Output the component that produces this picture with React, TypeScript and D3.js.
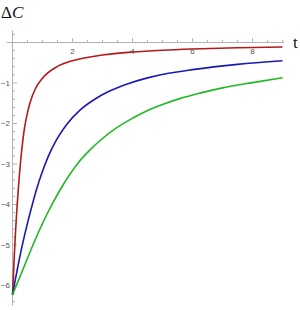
import React, { useEffect, useRef } from "react";
import * as d3 from "d3";

// values (t, ΔC)
const redT = [0, 0.05, 0.1, 0.15, 0.2, 0.3, 0.4, 0.5, 0.6, 0.75, 1.0, 1.5, 2.0, 3.0, 4.0, 5.0, 6.0, 7.5, 9.0];
const redV = [-6.23, -5.42, -4.68, -4.07, -3.56, -2.71, -2.11, -1.73, -1.45, -1.16, -0.88, -0.59, -0.45, -0.31, -0.235, -0.19, -0.16, -0.13, -0.11];

const blueT = [0, 0.1, 0.2, 0.35, 0.5, 0.65, 0.8, 0.97, 1.2, 1.47, 1.8, 2.25, 2.7, 3.2, 3.8, 4.47, 5.2, 6.0, 7.5, 9.0];
const blueV = [-6.23, -5.83, -5.45, -4.93, -4.46, -4.03, -3.63, -3.24, -2.8, -2.4, -2.03, -1.67, -1.42, -1.21, -1.03, -0.88, -0.76, -0.67, -0.54, -0.45];

const greenT = [0, 0.15, 0.4, 0.7, 1.0, 1.33, 1.7, 2.18, 2.6, 2.92, 3.5, 4.0, 4.47, 5.0, 5.6, 6.25, 7.0, 8.0, 9.0];
const greenV = [-6.23, -5.96, -5.51, -4.97, -4.47, -3.98, -3.5, -2.98, -2.64, -2.42, -2.09, -1.87, -1.69, -1.53, -1.38, -1.25, -1.12, -0.99, -0.87];

const xTicks = [2, 4, 6, 8];
const yTicks = [-1, -2, -3, -4, -5, -6];

const series = [
  { t: redT, v: redV, color: "#b31a1a" },
  { t: blueT, v: blueV, color: "#1a1ab3" },
  { t: greenT, v: greenV, color: "#22b922" },
];

const App: React.FC = () => {
  const svgRef = useRef<SVGSVGElement>(null);

  useEffect(() => {
    if (!svgRef.current) return;
    const svg = d3.select(svgRef.current);
    svg.selectAll("*").remove();

    const width = 300;
    const height = 310;
    svg.attr("width", width).attr("height", height);

    const x = d3.scaleLinear().domain([0, 9]).range([12.5, 282.5]);
    const y = d3.scaleLinear().domain([0, -6.5]).range([42.5, 305.75]);

    const axisColor = "#b3b3b3";
    const labelColor = "#555";
    const tickFont = "'Liberation Sans', Arial, sans-serif";

    // x axis
    svg
      .append("line")
      .attr("x1", x(-0.2))
      .attr("x2", x(9.05))
      .attr("y1", y(0))
      .attr("y2", y(0))
      .attr("stroke", axisColor)
      .attr("stroke-width", 1);

    d3.range(0.5, 9.01, 0.5).forEach((t) => {
      const major = Math.abs(t % 2) < 1e-6;
      svg
        .append("line")
        .attr("x1", x(t))
        .attr("x2", x(t))
        .attr("y1", y(0))
        .attr("y2", y(0) - (major ? 4.5 : 2.5))
        .attr("stroke", axisColor)
        .attr("stroke-width", 1);
    });

    xTicks.forEach((t) => {
      svg
        .append("text")
        .attr("x", x(t))
        .attr("y", y(0) + 11)
        .attr("text-anchor", "middle")
        .style("font-family", tickFont)
        .style("font-size", "8px")
        .style("fill", labelColor)
        .text(t);
    });

    // y axis
    svg
      .append("line")
      .attr("x1", x(0))
      .attr("x2", x(0))
      .attr("y1", y(0.3))
      .attr("y2", y(-6.5))
      .attr("stroke", axisColor)
      .attr("stroke-width", 1);

    d3.range(0.2, -6.45, -0.2).forEach((v) => {
      const major = Math.abs(v - Math.round(v)) < 1e-6;
      svg
        .append("line")
        .attr("x1", x(0))
        .attr("x2", x(0) + (major ? 4.5 : 2.5))
        .attr("y1", y(v))
        .attr("y2", y(v))
        .attr("stroke", axisColor)
        .attr("stroke-width", 1);
    });

    yTicks.forEach((v) => {
      svg
        .append("text")
        .attr("x", x(0) - 2.5)
        .attr("y", y(v))
        .attr("dy", "0.35em")
        .attr("text-anchor", "end")
        .style("font-family", tickFont)
        .style("font-size", "8px")
        .style("fill", labelColor)
        .text("\u2212" + Math.abs(v));
    });

    // curves
    const line = d3
      .line<[number, number]>()
      .x((d) => x(d[0]))
      .y((d) => y(d[1]))
      .curve(d3.curveMonotoneX);

    series.forEach((s) => {
      const pts = s.t.map((t, i) => [t, s.v[i]] as [number, number]);
      svg
        .append("path")
        .attr("d", line(pts) || "")
        .attr("fill", "none")
        .attr("stroke", s.color)
        .attr("stroke-width", 1.6);
    });

    // axis labels
    const label = svg
      .append("text")
      .attr("x", 1)
      .attr("y", 18)
      .style("font-family", "'Liberation Serif', 'DejaVu Serif', serif")
      .style("font-size", "17px")
      .style("fill", "#111");
    label.append("tspan").text("\u0394");
    label.append("tspan").style("font-style", "italic").text("C");

    svg
      .append("text")
      .attr("x", 293)
      .attr("y", 48)
      .style("font-family", "'Liberation Serif', 'DejaVu Serif', serif")
      .style("font-size", "17px")
      .style("fill", "#111")
      .text("t");
  }, []);

  return (
    <div style={{ position: "absolute", left: 0, top: 0 }}>
      <svg ref={svgRef} style={{ display: "block" }}></svg>
    </div>
  );
};

export default App;
